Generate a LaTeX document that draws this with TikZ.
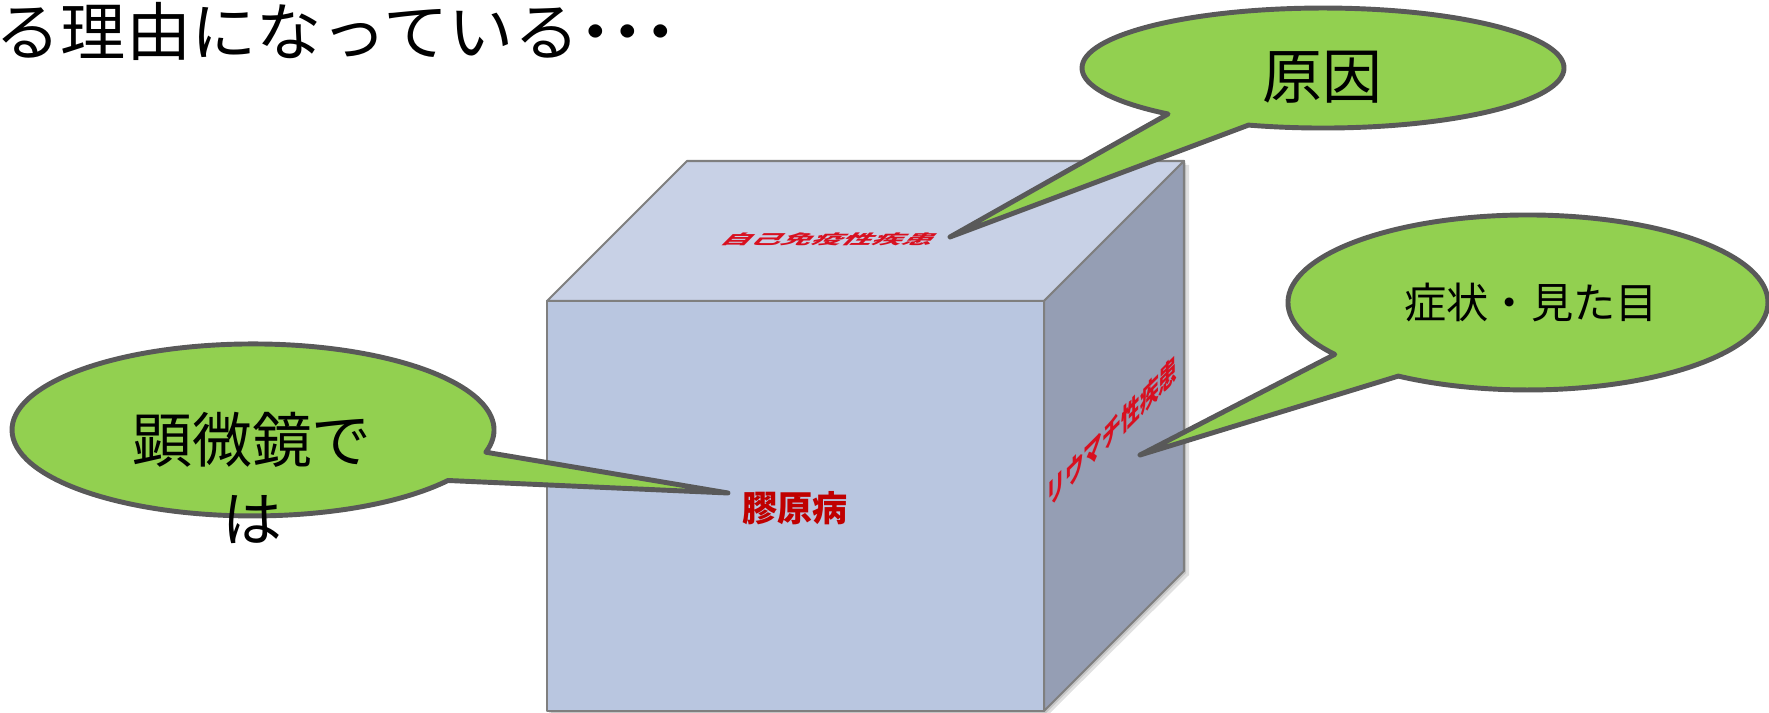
\documentclass[tikz,border=0pt]{standalone}
\usepackage{fontspec}
\setmainfont{Noto Sans CJK JP}
\usepackage{graphicx}

\definecolor{verde}{HTML}{92D050}
\definecolor{bordo}{HTML}{595959}
\definecolor{fronte}{HTML}{B9C6E0}
\definecolor{sopra}{HTML}{C8D1E6}
\definecolor{fianco}{HTML}{959EB4}
\definecolor{spigolo}{HTML}{7F7F7F}
\definecolor{rossoscuro}{HTML}{C00000}
\definecolor{rossochiaro}{HTML}{D81020}

\begin{document}
\begin{tikzpicture}[
    x=0.01cm, y=-0.01cm,
    fumetto/.style={fill=verde, draw=bordo, line width=1.4pt, line join=round},
    faccia/.style={draw=spigolo, line width=0.6pt, line join=round},
    testo/.style={font=\fontsize{17}{22.5}\selectfont, inner sep=0pt, align=center},
    et/.style={font=\fontsize{8.6}{10}\selectfont\bfseries, text=rossochiaro, inner sep=0pt},
  ]

  \useasboundingbox (0,0) rectangle (1769,713);

  % --- riga di testo in alto, tagliata a sinistra ---
  \node[testo, font=\fontsize{18}{22}\selectfont, anchor=west] (intro) at (-5,31)
       {\scalebox{1.03}[1]{る理由になっている{\bfseries ･･･}}};

  % --- ombra del cubo ---
  \fill[black, opacity=0.12] (551,715) -- (551,305) -- (691,165) -- (1189,165)
       -- (1189,575) -- (1048,715) -- cycle;
  \fill[black, opacity=0.12] (549,713) -- (549,303) -- (689,163) -- (1186,163)
       -- (1186,573) -- (1046,713) -- cycle;

  % --- le tre facce del cubo ---
  \filldraw[faccia, fill=sopra]  (547,301) -- (687,161) -- (1184,161) -- (1044,301) -- cycle;
  \filldraw[faccia, fill=fianco] (1044,301) -- (1184,161) -- (1184,571) -- (1044,711) -- cycle;
  \filldraw[faccia, fill=fronte] (547,301) rectangle (1044,711);

  % --- scritte sulle facce ---
  \node[font=\fontsize{10}{12}\selectfont\bfseries, text=rossoscuro, inner sep=0pt]
       (collagene) at (795,508) {膠原病};

  \begin{scope}[shift={(830,239)}]
    \node[et, cm={1,0,0.45,0.45,(0,0)}, transform shape] (autoimm) at (0,0)
         {自己免疫性疾患};
  \end{scope}

  \begin{scope}[shift={(1112,432)}]
    \node[et, cm={0.62,0.62,0,1,(0,0)}, transform shape] (reuma) at (0,0)
         {リウマチ性疾患};
  \end{scope}

  % --- punte dei fumetti ---
  \coordinate (pcausa)  at (950,237);
  \coordinate (psintomi) at (1140,455);
  \coordinate (pmicro)  at (728,493);

  % --- fumetto: causa ---
  \draw[fumetto] (1168.1,114.0)
       arc[start angle=130, end angle=468, x radius=241, y radius=60]
       -- (pcausa) -- cycle;
  \node[testo] (causa) at (1322,77) {原因};

  % --- fumetto: sintomi ---
  \draw[fumetto] (1334.8,354.4)
       arc[start angle=143.6, end angle=482.7, x radius=240, y radius=87.5]
       -- (psintomi) -- cycle;
  \node[testo, font=\fontsize{12}{14}\selectfont] (sintomi) at (1531,302) {症状・見た目};

  % --- fumetto: microscopio ---
  \draw[fumetto] (448.0,480.5)
       arc[start angle=36, end angle=375, x radius=241, y radius=86]
       -- (pmicro) -- cycle;
  \node[testo] (micro) at (252,478) {顕微鏡で\\は};

\end{tikzpicture}
\end{document}
